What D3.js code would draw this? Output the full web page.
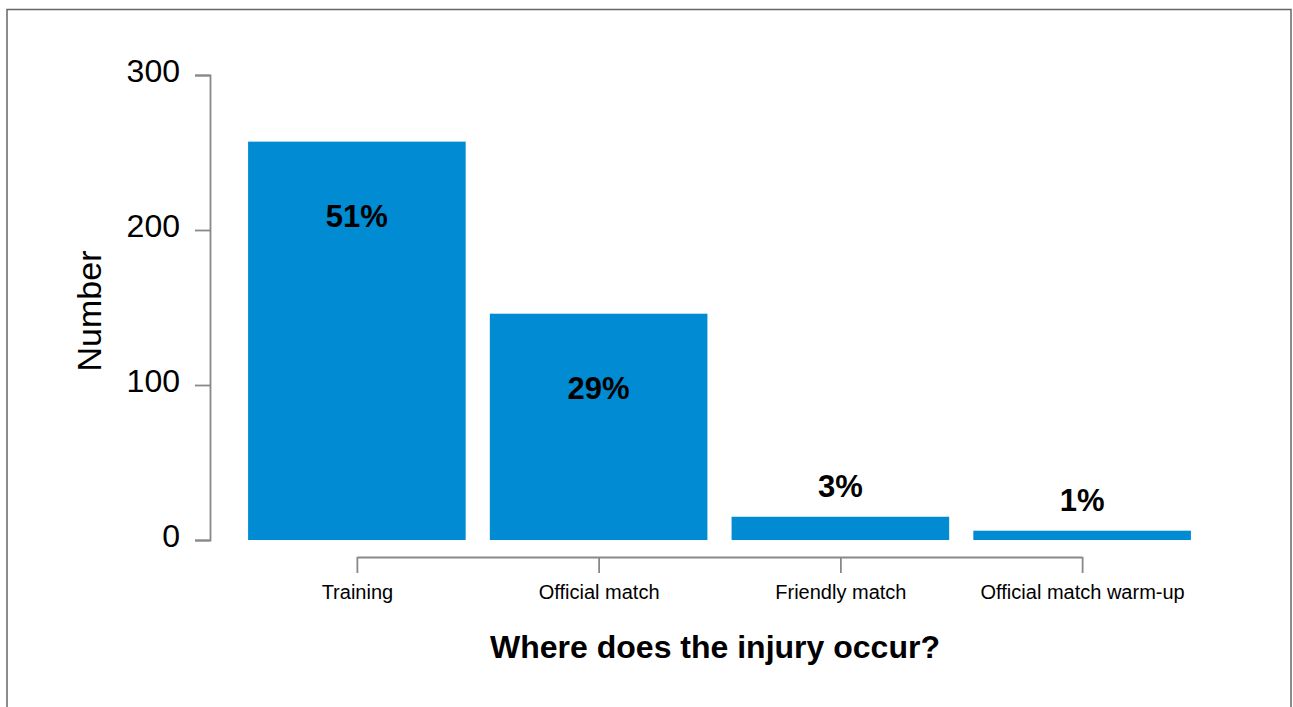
<!DOCTYPE html>
<html>
<head>
<meta charset="utf-8">
<script src="https://cdn.jsdelivr.net/npm/d3@7"></script>
<style>
  html, body { margin: 0; padding: 0; background: #fff; }
  svg { display: block; }
  text { font-family: "Liberation Sans", Arial, Helvetica, sans-serif; fill: #000; }
</style>
</head>
<body>
<svg id="chart" width="1293" height="707"></svg>
<script>
const categories = ["Training", "Official match", "Friendly match", "Official match warm-up"];
const counts = [257, 146, 15, 6];
const percentLabels = ["51%", "29%", "3%", "1%"];
const yTicks = [0, 100, 200, 300];
const yTitle = "Number";
const xTitle = "Where does the injury occur?";

const svg = d3.select("#chart");

// frame
svg.append("rect")
  .attr("x", 7).attr("y", 9.5)
  .attr("width", 1284).attr("height", 720)
  .attr("fill", "none").attr("stroke", "#666").attr("stroke-width", 1.5);

const y = d3.scaleLinear().domain([0, 300]).range([540, 75]);
const x = d3.scaleBand().domain(categories).range([236, 1203]).paddingInner(0.1).paddingOuter(0.05);
const xp = d3.scalePoint().domain(categories)
  .range([x(categories[0]) + x.bandwidth() / 2, x(categories[categories.length - 1]) + x.bandwidth() / 2]);

// y axis
const yAxis = svg.append("g").attr("transform", "translate(210,0)")
  .call(d3.axisLeft(y).tickValues(yTicks).tickSize(15).tickSizeOuter(15).tickPadding(15));
yAxis.selectAll("path, line").attr("stroke", "#888").attr("stroke-width", 1.8);
yAxis.selectAll("text").style("font-size", "32px").attr("dy", "0.2em");

// bars
svg.append("g").selectAll("rect").data(categories).join("rect")
  .attr("x", d => x(d))
  .attr("width", x.bandwidth())
  .attr("y", (d, i) => y(counts[i]))
  .attr("height", (d, i) => y(0) - y(counts[i]))
  .attr("fill", "#008BD3");

// percent labels
svg.append("g").selectAll("text").data(categories).join("text")
  .attr("x", d => x(d) + x.bandwidth() / 2)
  .attr("y", (d, i) => counts[i] > 50 ? y(counts[i]) + 85 : y(counts[i]) - 20)
  .attr("text-anchor", "middle")
  .style("font-size", "31px").style("font-weight", "bold")
  .text((d, i) => percentLabels[i]);

// x axis
const xAxis = svg.append("g").attr("transform", "translate(0,557)")
  .call(d3.axisBottom(xp).tickSize(16).tickSizeOuter(0).tickPadding(12));
xAxis.selectAll("path, line").attr("stroke", "#888").attr("stroke-width", 1.8);
xAxis.selectAll("text").style("font-size", "20px");

// axis titles
svg.append("text")
  .attr("transform", "translate(101,311) rotate(-90)")
  .attr("text-anchor", "middle")
  .style("font-size", "34px")
  .text(yTitle);

svg.append("text")
  .attr("x", 715).attr("y", 658)
  .attr("text-anchor", "middle")
  .style("font-size", "32px").style("font-weight", "bold")
  .text(xTitle);
</script>
</body>
</html>
